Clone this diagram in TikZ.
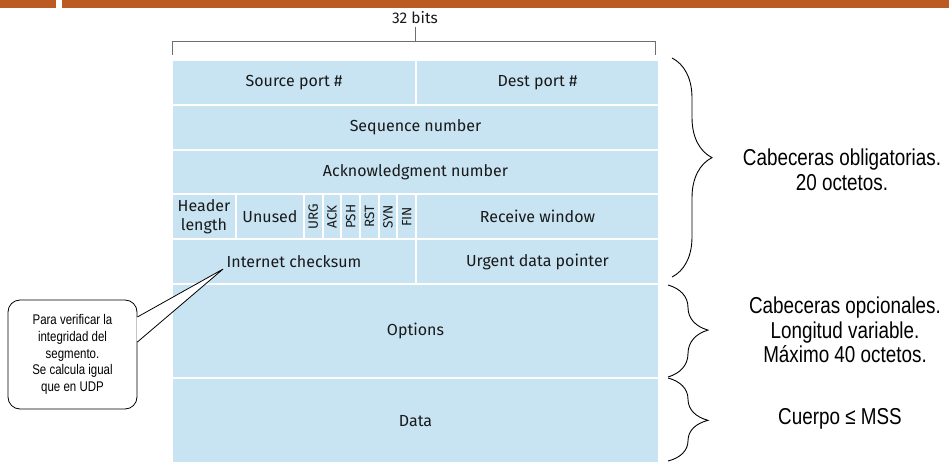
\documentclass[tikz,border=0pt]{standalone}
\usepackage{fontspec}
\setmainfont{Liberation Sans}
\newfontfamily\fieldfont{Fira Sans}
\newfontfamily\narrowfont[FakeStretch=0.82]{Liberation Sans}
\usetikzlibrary{positioning,calc,decorations.pathreplacing}
\definecolor{segblue}{RGB}{200,228,243}
\definecolor{barorange}{RGB}{188,90,36}
\definecolor{rulegray}{RGB}{110,110,110}

\begin{document}
\begin{tikzpicture}[x=1pt,y=-1pt,
		field/.style={fill=segblue, draw=white, line width=2pt, inner sep=0pt, anchor=north west,
			minimum height=44.8pt, font=\fieldfont\fontsize{16}{17}\selectfont, text=black!90},
		flag/.style={field, minimum width=18.67pt, font=\fieldfont\fontsize{13.5}{14}\selectfont},
		side/.style={align=center, font=\narrowfont\fontsize{23}{24.5}\selectfont},
		curly/.style={decorate, decoration={brace, amplitude=40pt, aspect=#1}, line width=0.9pt}]
		\useasboundingbox (0,0) rectangle (949,462);
		
		% top bar
		\fill[barorange] (0,0) rectangle (55.5,8.3);
		\fill[barorange] (62,0) rectangle (949,8.3);
		
		% width bracket
		\node[font=\fieldfont\fontsize{15.5}{16}\selectfont, text=black!90] (W) at (415,18) {32 bits};
		\coordinate (WL) at (172.5,55);
		\coordinate (WR) at (655,55);
		\coordinate (WM) at (415,41.5);
		\draw[rulegray, line width=1pt] (WL) |- (WM) -| (WR);
		\draw[rulegray, line width=1pt] (W.south) ++(0,-1) -- (WM);
		
		% segment fields
		\node[field, minimum width=244pt] (SP) at (171,59) {Source port \#};
		\node[field, minimum width=243pt] (DP) at (415,59) {Dest port \#};
		\node[field, minimum width=487pt] (SN) at (171,103.8) {Sequence number};
		\node[field, minimum width=487pt] (AN) at (171,148.6) {Acknowledgment number};
		\node[field, minimum width=64pt, align=center, font=\fieldfont\fontsize{16}{19}\selectfont] (HL) at (171,193.4) {Header\\length};
		\node[field, minimum width=68pt] (UN) at (235,193.4) {Unused};
		\foreach \f [count=\i from 0] in {URG,ACK,PSH,RST,SYN,FIN}
			\node[flag] (F\f) at ({303+18.67*\i},193.4) {\rotatebox{90}{\f}};
		\node[field, minimum width=243pt] (RW) at (415,193.4) {Receive window};
		\node[field, minimum width=244pt] (CS) at (171,238.2) {Internet checksum};
		\node[field, minimum width=243pt] (UP) at (415,238.2) {Urgent data pointer};
		\node[field, minimum width=487pt, minimum height=94pt] (OP) at (171,283) {Options};
		\node[field, minimum width=487pt, minimum height=86pt] (DA) at (171,377) {Data};
		
		% braces and their labels
		\draw[curly=0.455] (672,58) -- (672,277);
		\draw[curly=0.49] (668,285) -- (668,377);
		\draw[curly=0.51] (668,378) -- (668,461);
		\node[side] (OB) at (842,170) {Cabeceras obligatorias.\\20 octetos.};
		\node[side] (OC) at (845,330) {Cabeceras opcionales.\\Longitud variable.\\Máximo 40 octetos.};
		\node[side] (CU) at (840,419) {Cuerpo ≤ MSS};
		
		% callout on the checksum
		\node[draw, line width=0.8pt, fill=white, rounded corners=12pt, minimum width=129pt, minimum height=109pt,
			align=center, font=\narrowfont\fontsize{14}{16.7}\selectfont] (NT) at (72.5,354.5)
			{Para verificar la\\integridad del\\segmento.\\Se calcula igual\\que en UDP};
		\coordinate (T) at ($(CS.center)+(-71,7.5)$);
		\coordinate (N1) at ($(NT.east)+(0,-37.5)$);
		\coordinate (N2) at ($(NT.east)+(0,-12.5)$);
		\fill[white] ($(N1)+(-0.8,0.4)$) -- (T) -- ($(N2)+(-0.8,-0.4)$) -- cycle;
		\draw[line width=0.8pt, line join=round] (N1) -- (T) -- (N2);
\end{tikzpicture}
\end{document}
